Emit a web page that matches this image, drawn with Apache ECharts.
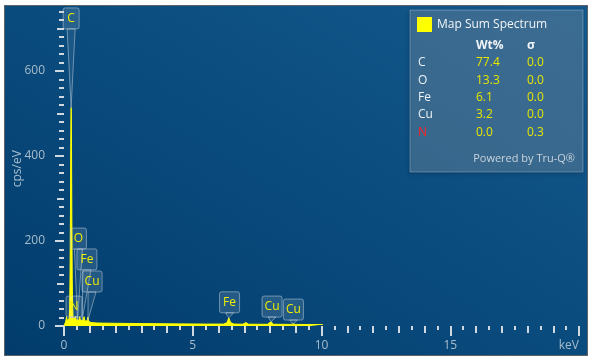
<!DOCTYPE html>
<html><head><meta charset="utf-8">
<script src="https://cdn.jsdelivr.net/npm/echarts@6/dist/echarts.min.js"></script>
<style>
html,body{margin:0;padding:0;background:#fff;}
#panel{position:absolute;left:4px;top:5px;width:582px;height:349px;border:1px solid #5f6368;
 background:linear-gradient(to bottom left,#14598c 0%,#0a4b7d 50%,#013c6c 100%);}
#chart{position:absolute;left:0;top:0;width:592px;height:364px;}
</style></head><body><div id="panel"></div><div id="chart"></div>
<script>
// Spectrum (keV, cps/eV)
const energy = [0.00,0.03,0.05,0.08,0.10,0.12,0.15,0.18,0.20,0.22,0.235,0.25,0.262,0.272,0.277,0.283,0.292,0.305,0.32,0.335,0.35,0.38,0.42,0.45,0.47,0.52,0.57,0.61,0.64,0.70,0.74,0.78,0.81,0.87,0.90,0.93,0.96,1.05,1.3,1.8,2.5,3.5,4.5,5.5,6.2,6.33,6.40,6.47,6.6,6.95,7.06,7.17,7.9,8.04,8.14,8.8,8.9,9.0,9.6,10.05];
const counts = [0,0,8,14,22,13,11,14,18,40,120,260,430,505,514,500,420,250,110,45,22,14,14,23,15,12,13,22,13,11,13,22,12,10,12,21,11,8,7,6.5,6,5.5,5,4.5,4.5,8,19,8,4.5,4.2,8,4.2,4,10,4,3.8,5,3.7,3.5,3.5];

// Peak labels
const peakNames = ['C','O','Fe','Cu','N','Fe','Cu','Cu'];
const peakEnergy = [0.277,0.525,0.705,0.93,0.45,6.40,8.04,8.90];
const peakCounts = [514,14,14,14,20,19,10,5];
const labelEnergy = [0.277,0.56,0.89,1.09,0.39,6.43,8.08,8.91];
const labelCounts = [699,181,132,80,21,31,21,14];

// Quantification table
const tableElements = ['C','O','Fe','Cu','N'];
const tableWt = ['77.4','13.3','6.1','3.2','0.0'];
const tableSigma = ['0.0','0.0','0.0','0.0','0.3'];

// Axis ticks
const yLabelValues = [0,200,400,600];
const yMidTicks = [100,300,500,700];

const labelColor = '#a9bccb';
const tickColor = '#d0d9e0';
const FONT = '"Open Sans", "Noto Sans", sans-serif';

const spectrum = energy.map((e,i)=>[e,counts[i]]);
const callouts = peakNames.map((n,i)=>[labelEnergy[i],labelCounts[i],peakEnergy[i],peakCounts[i]]);

function xAxisLevel(interval,len,showLabel){
  return {type:'value',min:0,max:20,interval:interval,position:'bottom',offset:1,
    axisLine:{show:false},splitLine:{show:false},
    axisTick:{show:true,length:len,lineStyle:{color:tickColor,width:2}},
    axisLabel:showLabel?{show:true,color:labelColor,fontSize:12,fontFamily:FONT,margin:13,
      formatter:v=>v===20?'keV':String(v),alignMaxLabel:'right'}:{show:false}};
}
function yAxisLevel(extra){
  return Object.assign({type:'value',min:0,max:740,position:'left',offset:7,
    axisLine:{show:false},splitLine:{show:false}},extra);
}

const graphic = [
  {type:'rect',shape:{x:410,y:10,width:173,height:162},
   style:{fill:'rgba(120,152,180,0.42)',stroke:'rgba(160,185,205,0.45)',lineWidth:1,
     shadowColor:'rgba(0,0,0,0.35)',shadowBlur:4,shadowOffsetX:-1,shadowOffsetY:2}},
  {type:'rect',shape:{x:417,y:17,width:15,height:15},style:{fill:'#ffff00'}},
  {type:'text',x:437,y:25,style:{text:'Map Sum Spectrum',fill:'#f2f5f8',font:'12px '+FONT,verticalAlign:'middle'}},
  {type:'text',x:476,y:46,style:{text:'Wt%',fill:'#f2f5f8',font:'bold 12px '+FONT,verticalAlign:'middle'}},
  {type:'text',x:527,y:46,style:{text:'σ',fill:'#f2f5f8',font:'bold 12px '+FONT,verticalAlign:'middle'}},
  {type:'text',x:575,y:159,style:{text:'Powered by Tru-Q®',fill:'#c9d4dd',font:'11px '+FONT,align:'right',verticalAlign:'middle'}}
];
const rowY = [63,81,98,115,133];
tableElements.forEach((el,i)=>{
  graphic.push({type:'text',x:418,y:rowY[i],style:{text:el,fill:el==='N'?'#ff2424':'#eef2f5',font:'12px '+FONT,verticalAlign:'middle'}});
  graphic.push({type:'text',x:476,y:rowY[i],style:{text:tableWt[i],fill:'#e6e600',font:'12px '+FONT,verticalAlign:'middle'}});
  graphic.push({type:'text',x:527,y:rowY[i],style:{text:tableSigma[i],fill:'#e6e600',font:'12px '+FONT,verticalAlign:'middle'}});
});

const chart = echarts.init(document.getElementById('chart'));
chart.setOption({
  animation:false,
  backgroundColor:'transparent',
  grid:{left:64,right:13,top:11.5,bottom:38,containLabel:false,outerBoundsMode:'none'},
  xAxis:[xAxisLevel(5,10,true),xAxisLevel(1,7,false),xAxisLevel(0.5,4,false)],
  yAxis:[
    yAxisLevel({interval:200,
      name:'cps/eV',nameLocation:'middle',nameGap:33,nameMoveOverlap:false,
      nameTextStyle:{color:labelColor,fontSize:12,fontFamily:FONT},
      axisTick:{show:true,length:9,customValues:yLabelValues,lineStyle:{color:tickColor,width:2}},
      axisLabel:{show:true,customValues:yLabelValues,color:labelColor,fontSize:12,fontFamily:FONT,margin:12}}),
    yAxisLevel({interval:100,axisTick:{show:true,length:7,customValues:yMidTicks,lineStyle:{color:tickColor,width:2}},axisLabel:{show:false}}),
    yAxisLevel({interval:20,axisTick:{show:true,length:5,lineStyle:{color:tickColor,width:2}},axisLabel:{show:false}})
  ],
  series:[
    {type:'line',data:spectrum,xAxisIndex:0,yAxisIndex:0,showSymbol:false,
     lineStyle:{color:'#ffff00',width:1},areaStyle:{color:'#ffff00',opacity:1},z:2},
    {type:'custom',data:callouts,xAxisIndex:0,yAxisIndex:0,z:5,clip:false,
     encode:{x:0,y:1},
     renderItem:function(params,api){
       const i = params.dataIndex;
       const name = peakNames[i];
       const a = api.coord([api.value(0),api.value(1)]);
       const t = api.coord([api.value(2),api.value(3)]);
       const w = name.length>1?20:16, h = 21;
       const stroke = 'rgba(185,202,215,0.55)';
       return {type:'group',children:[
         {type:'polygon',shape:{points:[[a[0]-4,a[1]],[a[0]+4,a[1]],t]},
          style:{fill:'rgba(255,255,255,0.07)',stroke:stroke,lineWidth:1}},
         {type:'rect',shape:{x:a[0]-w/2,y:a[1]-h,width:w,height:h,r:2},
          style:{fill:'rgba(255,255,255,0.12)',stroke:stroke,lineWidth:1}},
         {type:'text',style:{text:name,x:a[0],y:a[1]-h/2,align:'center',verticalAlign:'middle',
          fill:'#eeee00',font:'12px '+FONT}}
       ]};
     }}
  ],
  graphic:graphic
});
</script></body></html>
